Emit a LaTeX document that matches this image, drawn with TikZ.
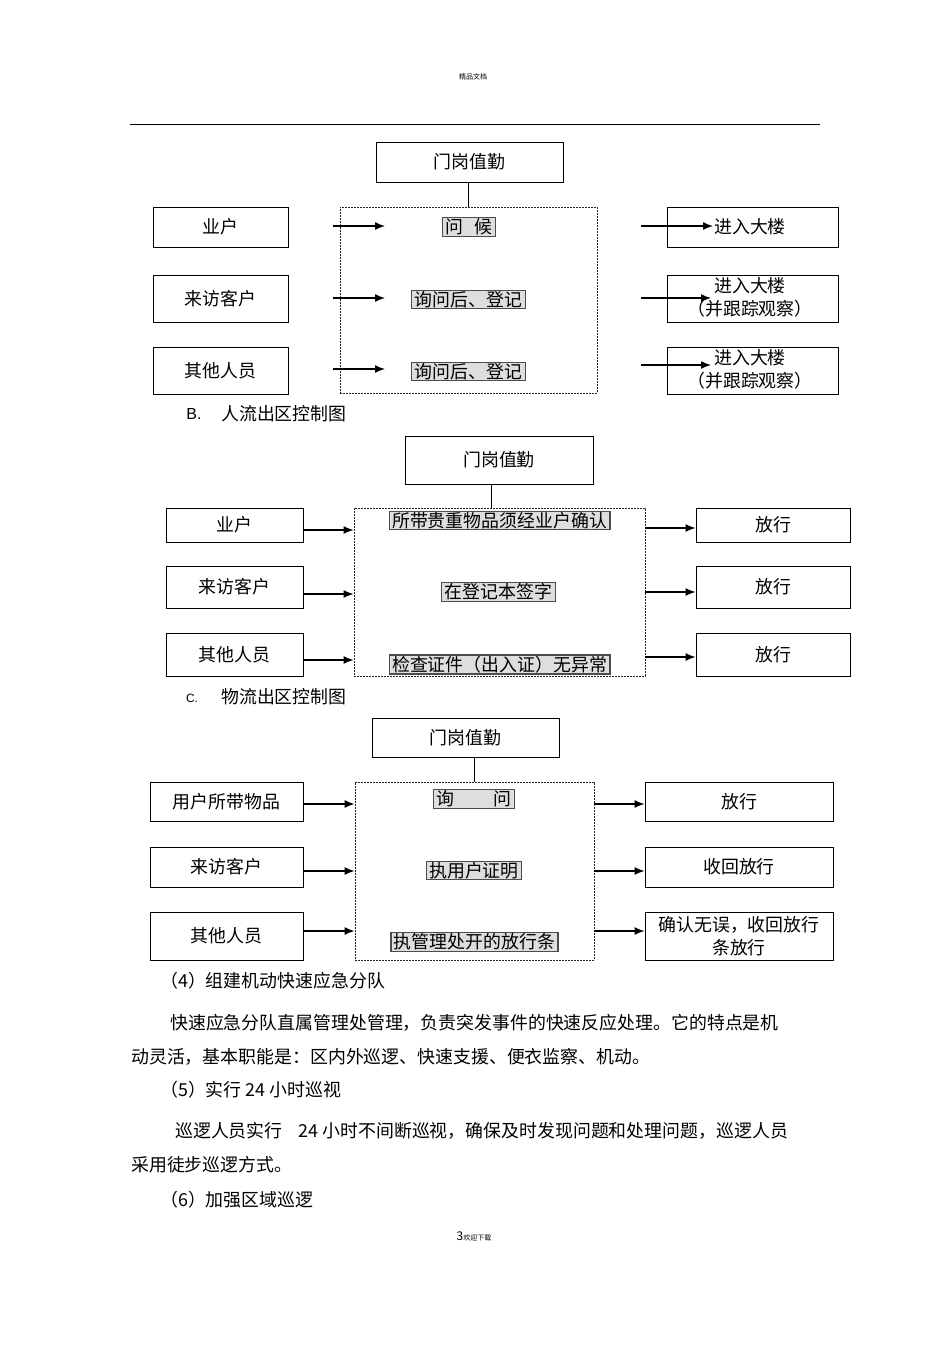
\documentclass[tikz,border=0pt]{standalone}
\usepackage{fontspec}
\setmainfont{Noto Sans CJK SC}
\newfontfamily\latinsans{Liberation Sans}
\usetikzlibrary{arrows.meta,calc}
\tikzset{
  box/.style={draw=black, line width=0.9pt, inner sep=0pt, align=center},
  dbox/.style={draw=black!85, dash pattern=on 2pt off 1pt, line width=0.9pt, inner sep=0pt},
  gbox/.style={draw=black!70, fill=black!13, line width=1.2pt, inner xsep=3pt, inner ysep=1pt},
  arr/.style={line width=1.4pt, -{Latex[length=10pt,width=8pt]}},
  conn/.style={line width=0.8pt},
  body/.style={anchor=west, inner sep=0pt},
}
\begin{document}
\begin{tikzpicture}[x=1pt,y=-1pt, every node/.style={font=\fontsize{17.9}{23}\selectfont}]
\useasboundingbox (0,0) rectangle (950,1345);
\fill[white] (0,0) rectangle (950,1345);
% header
\node[inner sep=0pt, font=\fontsize{7}{8}\selectfont] (hdr) at (473,77) {精品文档};
\coordinate (hl) at (130,124);
\coordinate (hr) at (820,124);
\draw[line width=1pt] (hl) -- (hr);

% ===== Diagram A =====
\node[box, minimum width=187pt, minimum height=40pt] (gA) at (469.5,162) {门岗值勤};
\node[dbox, minimum width=257pt, minimum height=186pt] (dA) at (468.5,300) {};
\draw[conn] (gA.south -| dA.north) -- (dA.north);
\node[box, minimum width=135pt, minimum height=40pt] (lA1) at (220.5,227) {业户};
\node[box, minimum width=135pt, minimum height=47pt] (lA2) at (220.5,298.5) {来访客户};
\node[box, minimum width=135pt, minimum height=47pt] (lA3) at (220.5,370.5) {其他人员};
\node[gbox] (iA1) at (469,227) {问\hspace{0.6em}候};
\node[gbox] (iA2) at (468.5,299.5) {询问后、登记};
\node[gbox] (iA3) at (468.5,371.5) {询问后、登记};
\node[box, minimum width=171pt, minimum height=40pt] (rA1) at (752.5,227) {};
\node[box, minimum width=171pt, minimum height=47pt] (rA2) at (752.5,298.5) {};
\node[box, minimum width=171pt, minimum height=47pt] (rA3) at (752.5,370.5) {};
\node[inner sep=0pt] (tA1) at (750,227) {进入大楼};
\node[inner sep=0pt, align=center] (tA2) at (750,297.5) {进入大楼\\（并跟踪观察）};
\node[inner sep=0pt, align=center] (tA3) at (750,369.5) {进入大楼\\（并跟踪观察）};
\coordinate (aL1s) at (333,226); \coordinate (aL1e) at (385,226);
\coordinate (aL2s) at (333,298); \coordinate (aL2e) at (385,298);
\coordinate (aL3s) at (333,369); \coordinate (aL3e) at (385,369);
\draw[arr] (aL1s) -- (aL1e);
\draw[arr] (aL2s) -- (aL2e);
\draw[arr] (aL3s) -- (aL3e);
\coordinate (aR1s) at (641,226); \coordinate (aR1e) at (713,226);
\coordinate (aR2s) at (641,298); \coordinate (aR2e) at (711,298);
\coordinate (aR3s) at (641,365); \coordinate (aR3e) at (711,365);
\draw[arr] (aR1s) -- (aR1e);
\draw[arr] (aR2s) -- (aR2e);
\draw[arr] (aR3s) -- (aR3e);

% caption B
\node[inner sep=0pt, font=\latinsans\fontsize{16}{18}\selectfont] (capB1) at (194,414) {B.};
\node[body] (capB2) at (221,414) {人流出区控制图};

% ===== Diagram B =====
\node[box, minimum width=188pt, minimum height=48pt] (gB) at (499,460) {门岗值勤};
\node[dbox, minimum width=291pt, minimum height=168pt] (dB) at (499.5,592) {};
\coordinate (gBl) at (491,484);
\draw[conn] (gBl) -- (gBl |- dB.north);
\node[box, minimum width=137pt, minimum height=34pt] (lB1) at (234.5,525) {业户};
\node[box, minimum width=137pt, minimum height=42pt] (lB2) at (234.5,587) {来访客户};
\node[box, minimum width=137pt, minimum height=43pt] (lB3) at (234.5,654.5) {其他人员};
\node[box, minimum width=154pt, minimum height=34pt] (rB1) at (773,525) {放行};
\node[box, minimum width=154pt, minimum height=42pt] (rB2) at (773,587) {放行};
\node[box, minimum width=154pt, minimum height=43pt] (rB3) at (773,654.5) {放行};
\node[gbox] (iB1) at (499.5,520.5) {所带贵重物品须经业户确认};
\node[gbox] (iB2) at (498.5,592) {在登记本签字};
\node[gbox] (iB3) at (499.5,664.5) {检查证件（出入证）无异常};
\draw[arr] ([yshift=-5pt]lB1.east) -- ([yshift=-5pt]lB1.east -| dB.west);
\draw[arr] ([yshift=-7pt]lB2.east) -- ([yshift=-7pt]lB2.east -| dB.west);
\draw[arr] ([yshift=-5.5pt]lB3.east) -- ([yshift=-5.5pt]lB3.east -| dB.west);
\draw[arr] ([yshift=-3pt]rB1.west -| dB.east) -- ([yshift=-3pt]rB1.west);
\draw[arr] ([yshift=-5pt]rB2.west -| dB.east) -- ([yshift=-5pt]rB2.west);
\draw[arr] ([yshift=-2.5pt]rB3.west -| dB.east) -- ([yshift=-2.5pt]rB3.west);

% caption C
\node[inner sep=0pt, font=\latinsans\fontsize{12}{14}\selectfont] (capC1) at (192,698) {C.};
\node[body] (capC2) at (221,697) {物流出区控制图};

% ===== Diagram C =====
\node[box, minimum width=187pt, minimum height=39pt] (gC) at (465.5,737.5) {门岗值勤};
\node[dbox, minimum width=239pt, minimum height=178pt] (dC) at (474.5,871) {};
\draw[conn] (gC.south -| dC.north) -- (dC.north);
\node[box, minimum width=153pt, minimum height=39pt] (lC1) at (226.5,801.5) {用户所带物品};
\node[box, minimum width=153pt, minimum height=40pt] (lC2) at (226.5,867) {来访客户};
\node[box, minimum width=153pt, minimum height=48pt] (lC3) at (226.5,936) {其他人员};
\node[box, minimum width=188pt, minimum height=39pt] (rC1) at (739,801.5) {放行};
\node[box, minimum width=188pt, minimum height=40pt] (rC2) at (739,867) {收回放行};
\node[box, minimum width=188pt, minimum height=48pt] (rC3) at (739,936) {确认无误，收回放行\\条放行};
\node[gbox] (iC1) at (474,799) {询\hspace{2.2em}问};
\node[gbox] (iC2) at (474,870.5) {执用户证明};
\node[gbox] (iC3) at (474.5,942) {执管理处开的放行条};
\draw[arr] ([yshift=-2.5pt]lC1.east) -- ([yshift=-2.5pt]lC1.east -| dC.west);
\draw[arr] ([yshift=-4pt]lC2.east) -- ([yshift=-4pt]lC2.east -| dC.west);
\draw[arr] ([yshift=5pt]lC3.east) -- ([yshift=5pt]lC3.east -| dC.west);
\draw[arr] ([yshift=-2.5pt]rC1.west -| dC.east) -- ([yshift=-2.5pt]rC1.west);
\draw[arr] ([yshift=-4pt]rC2.west -| dC.east) -- ([yshift=-4pt]rC2.west);
\draw[arr] ([yshift=5pt]rC3.west -| dC.east) -- ([yshift=5pt]rC3.west);

% ===== Body text =====
\node[body] (p4) at (160,981) {（4）组建机动快速应急分队};
\node[body] (t1) at (170,1023) {快速应急分队直属管理处管理，负责突发事件的快速反应处理。它的特点是机};
\node[body] (t2) at (131,1057) {动灵活，基本职能是：区内外巡逻、快速支援、便衣监察、机动。};
\node[body] (p5) at (160,1090) {（5）实行 24 小时巡视};
\node[body] (t3) at (175,1131) {巡逻人员实行\hspace{0.9em}24 小时不间断巡视，确保及时发现问题和处理问题，巡逻人员};
\node[body] (t4) at (131,1165) {采用徒步巡逻方式。};
\node[body] (p6) at (160,1200) {（6）加强区域巡逻};
\node[inner sep=0pt, font=\fontsize{12}{14}\selectfont] (ftr) at (474,1236) {3{\fontsize{7}{8}\selectfont 欢迎下载}};
\end{tikzpicture}
\end{document}
